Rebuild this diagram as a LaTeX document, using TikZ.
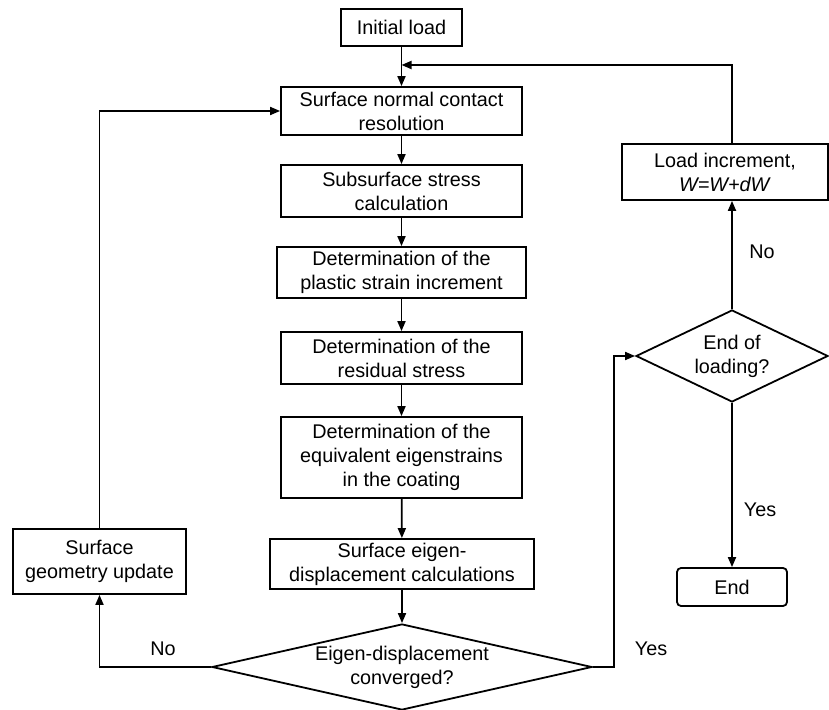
\documentclass[tikz,border=0pt]{standalone}
\usepackage{fontspec}
\setmainfont{Liberation Sans}
\usetikzlibrary{shapes.geometric,arrows.meta}
\tikzset{
	txt/.style={font=\fontsize{9.9}{12}\selectfont, align=center, inner sep=0pt},
	box/.style={txt, draw, line width=.9pt},
	cond/.style={box, diamond},
	link/.style={line width=.9pt, -{Triangle[length=5pt,width=4pt]}},
}
\begin{document}
\begin{tikzpicture}[x=.5pt, y=-.5pt]
	\useasboundingbox (0,0) rectangle (829,710);
	% main loop
	\node[box, minimum width=60.5pt, minimum height=18.5pt] (init) at (401.5,27.5) {Initial load};
	\node[box, minimum width=120.5pt, minimum height=24pt] (contact) at (401.5,111) {Surface normal contact\\resolution};
	\node[box, minimum width=120.5pt, minimum height=26pt] (stress) at (401.5,191) {Subsurface stress\\calculation};
	\node[box, minimum width=124.5pt, minimum height=25.5pt] (plastic) at (401.5,272.5) {Determination of the\\plastic strain increment};
	\node[box, minimum width=120.5pt, minimum height=26pt] (residual) at (401.5,358) {Determination of the\\residual stress};
	\node[box, minimum width=120.5pt, minimum height=40.5pt] (eigen) at (401.5,457.5) {Determination of the\\equivalent eigenstrains\\in the coating};
	\node[box, minimum width=132pt, minimum height=25pt] (disp) at (402,564) {Surface eigen-\\displacement calculations};
	\node[cond, shape aspect=4.4, minimum width=190pt, minimum height=43pt] (conv) at (402,667) {Eigen-displacement\\converged?};
	\node[box, minimum width=86.5pt, minimum height=32.5pt] (geom) at (99.5,561.5) {Surface\\geometry update};
	% loading loop
	\node[cond, shape aspect=2.1, minimum width=96pt, minimum height=46pt] (lend) at (732,356) {End of\\loading?};
	\node[box, minimum width=103pt, minimum height=28pt] (loadinc) at (725,172) {Load increment,\\\textit{W=W+dW}};
	\node[box, rounded corners=2pt, minimum width=55pt, minimum height=19pt] (end) at (732,587) {End};
	\coordinate (merge) at (401.5,65);

	\draw[link] (init) -- (contact);
	\draw[link] (contact) -- (stress);
	\draw[link] (stress) -- (plastic);
	\draw[link] (plastic) -- (residual);
	\draw[link] (residual) -- (eigen);
	\draw[link] (eigen) -- (disp);
	\draw[link] (disp) -- (conv);
	\draw[link] (conv.west) -| (geom.south);
	\draw[link] (geom.north) |- (contact.west);
	\draw[link] (conv.east) -- ++(21,0) |- (lend.west);
	\draw[link] (lend.south) -- (end.north);
	\draw[link] (lend.north) -- (lend.north |- loadinc.south);
	\draw[link] (lend.north |- loadinc.north) |- (merge);

	\node[txt] (no1) at (163,649) {No};
	\node[txt] (yes1) at (651,649) {Yes};
	\node[txt] (no2) at (762,252) {No};
	\node[txt] (yes2) at (760,510) {Yes};
\end{tikzpicture}
\end{document}
